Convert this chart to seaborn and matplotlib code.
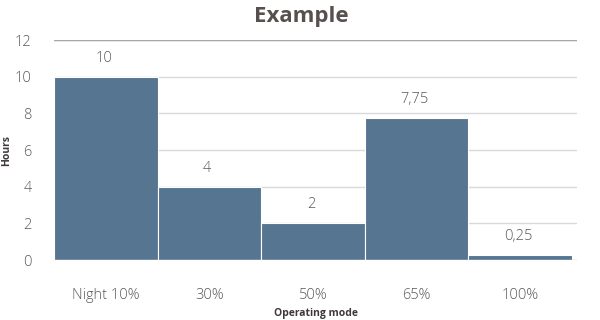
import matplotlib
matplotlib.use("Agg")
import matplotlib.pyplot as plt
import seaborn as sns
import pandas as pd

categories = ["Night 10%", "30%", "50%", "65%", "100%"]
hours = [10, 4, 2, 7.75, 0.25]
value_labels = ["10", "4", "2", "7,75", "0,25"]

sns.set_theme(style="white")
plt.rcParams['font.family'] = ['Open Sans', 'DejaVu Sans']

df = pd.DataFrame({"mode": categories, "hours": hours})

fig = plt.figure(figsize=(6, 3.2), dpi=100)
ax = fig.add_axes([0.09, 0.1875, 0.872, 0.6875])

sns.barplot(data=df, x="mode", y="hours", color="#557590", width=1.0,
            saturation=1, edgecolor="white", linewidth=0.8, ax=ax, zorder=3)

ax.set_ylim(0, 12)
ax.set_yticks(range(0, 13, 2))
ax.set_xlim(-0.5, 4.55)
ax.yaxis.grid(True, color="#D9D9D9", linewidth=1, zorder=0)
for s in ["left", "right", "top", "bottom"]:
    ax.spines[s].set_visible(False)
ax.axhline(0, color="#D9D9D9", linewidth=1, zorder=4)
ax.axhline(12, color="#A6A6A6", linewidth=1, zorder=4)

ax.tick_params(axis="y", length=0, pad=16, labelsize=10.5, labelcolor="#595959")
ax.tick_params(axis="x", length=0, pad=20, labelsize=10.5, labelcolor="#595959")
for t in ax.get_xticklabels() + ax.get_yticklabels():
    t.set_fontweight("light")

for i, (v, lab) in enumerate(zip(hours, value_labels)):
    ax.text(i - 0.02, v + 0.6, lab, ha="center", va="bottom", fontsize=10.5,
            color="#595959", fontweight="light", zorder=5)

ax.set_xlabel("Operating mode", fontsize=7.5, fontweight="bold", color="#403838", labelpad=4)
ax.set_ylabel("Hours", fontsize=7.5, fontweight="bold", color="#403838")
ax.yaxis.set_label_coords(-0.08, 0.5)
fig.suptitle("Example", x=0.503, y=0.98, fontsize=16, fontweight="bold", color="#594F4F")

fig.savefig("out.png", dpi=100)
